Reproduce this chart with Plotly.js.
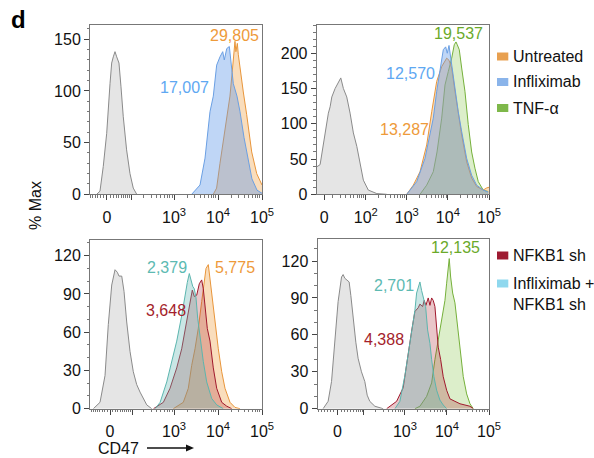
<!DOCTYPE html>
<html><head><meta charset="utf-8">
<script src="https://cdn.plot.ly/plotly-3.0.1.min.js"></script>
<style>html,body{margin:0;padding:0;background:#fff}#chart{width:594px;height:458px}</style>
</head><body><div id="chart"></div>
<script>
// ---------------- DATA (CD47 intensity, % of max) ----------------
// Panel 1
const p1GrayX = [-34, -22.5, -11.7, -0.9, 9.5, 14.9, 20.2, 25.9, 31.8, 40.2, 48, 57.6, 73, 91, 111, 136];
const p1GrayY = [0, 3, 27, 59, 107, 127, 133, 138, 133, 127, 104, 75, 43, 20, 6, 0];
const p1UntreatedX = [7800, 9300, 11100, 13200, 15800, 18700, 21000, 22300, 24300, 25500, 26600, 27500, 29000, 31600, 37600, 44900, 58300, 75900, 90200, 100000];
const p1UntreatedY = [0, 6, 30, 52, 75, 95, 118, 133, 148, 138, 143, 146, 135, 122, 99, 77, 41, 20, 12, 9];
const p1InflixX = [2520, 3900, 5070, 6030, 6580, 7820, 9330, 11100, 12800, 13900, 15800, 18100, 20500, 22300, 27000, 31600, 39000, 48000, 59000, 77000, 100000];
const p1InflixY = [0, 9, 35, 62, 80, 95, 125, 133, 138, 130, 141, 143, 123, 107, 95, 80, 55, 33, 15, 4, 1];
// Panel 2
const p2GrayX = [-12, -8.2, -4.4, -0.8, 3.0, 4.7, 6.7, 8.7, 12.8, 17.3, 21, 25.4, 31.9, 39.5, 48.4, 59.3, 71.8, 86.8, 115, 186, 325];
const p2GrayY = [30, 39, 42, 72, 101, 115, 124, 138, 150, 160, 165, 150, 138, 115, 87, 68, 44, 20, 6, 1, 0];
const p2UntreatedX = [997, 1443, 2100, 3050, 4040, 5340, 7070, 9350, 10640, 12370, 14870, 17890, 21650, 28620, 37860, 50100, 72400, 87700, 100000];
const p2UntreatedY = [0, 13, 32, 70, 117, 160, 181, 193, 190, 179, 146, 112, 84, 46, 23, 11, 6, 9, 10];
const p2InflixX = [997, 1745, 2775, 4415, 5340, 6430, 7730, 8830, 9660, 10640, 12370, 14870, 17890, 21650, 28620, 37860, 50100, 72400, 95900];
const p2InflixY = [0, 18, 51, 108, 146, 174, 205, 209, 200, 211, 183, 146, 117, 89, 51, 27, 13, 6, 3];
const p2TnfX = [2100, 3050, 4415, 5445, 7070, 8500, 10230, 12370, 14290, 15740, 16910, 18920, 21650, 26000, 31260, 37860, 45500, 54800, 72400, 95900];
const p2TnfY = [0, 13, 32, 60, 108, 155, 174, 193, 212, 216, 212, 205, 179, 146, 99, 60, 37, 18, 6, 4];
// Panel 3
const p3GrayX = [-69.5, -38.5, -18.6, -6.3, 6.3, 18.6, 27.5, 34.3, 45.8, 56.3, 69.5, 87.7, 108.5, 133, 162, 195, 235, 308];
const p3GrayY = [0, 5, 26, 66, 97, 109, 107, 104, 104, 92, 68, 45, 29, 19, 13, 8, 3, 0];
const p3UntreatedX = [964, 1626, 2113, 2523, 3000, 3565, 4262, 4806, 5336, 6020, 6580, 7420, 8550, 10160, 12140, 14420, 18740, 24330, 31620];
const p3UntreatedY = [0, 5, 16, 34, 47, 63, 84, 97, 110, 113, 102, 84, 65, 47, 29, 16, 5, 1, 0];
const p3NfkbX = [339, 571, 811, 1152, 1496, 1944, 2310, 2606, 2893, 3280, 3758, 4262, 4634, 5064, 5710, 6580, 7820, 9340, 12140, 15770, 20480];
const p3NfkbY = [0, 5, 16, 32, 47, 68, 84, 93, 88, 89, 98, 101, 94, 79, 63, 53, 32, 16, 5, 2, 0];
const p3InflixNfkbX = [370, 481, 683, 887, 1152, 1496, 1778, 2005, 2228, 2472, 2660, 2893, 3162, 3457, 3899, 4634, 5535, 7190, 9340, 13200];
const p3InflixNfkbY = [0, 5, 21, 37, 53, 73, 89, 99, 106, 101, 96, 94, 87, 71, 55, 37, 21, 8, 3, 0];
// Panel 4
const p4GrayX = [-43.7, -26.9, -16.7, -7.4, 1.6, 11.1, 15.6, 20.5, 27.5, 34, 39.8, 48.2, 59, 69, 86, 106, 122, 142, 190, 302];
const p4GrayY = [0, 6, 22, 54, 87, 107, 109, 106, 104, 103, 92, 73, 54, 41, 30, 22, 11, 6, 2, 0];
const p4TnfX = [1730, 2276, 3287, 4322, 5179, 6209, 7478, 8960, 9840, 10740, 11340, 12250, 13670, 15490, 17580, 20400, 24430, 29440, 35300, 42300];
const p4TnfY = [0, 2, 10, 21, 40, 56, 75, 88, 102, 118, 122, 107, 94, 86, 69, 48, 26, 12, 4, 0];
const p4NfkbX = [367, 634, 911, 1198, 1444, 1730, 2073, 2276, 2637, 2880, 3162, 3589, 3940, 4322, 4717, 5179, 5685, 6209, 7079, 8160, 9840, 11790, 15490, 20400, 26830, 35300, 42300];
const p4NfkbY = [0, 6, 17, 46, 63, 79, 82, 85, 83, 88, 84, 90, 84, 90, 88, 83, 67, 50, 40, 26, 15, 8, 6, 4, 3, 2, 0];
const p4InflixNfkbX = [578, 760, 1000, 1198, 1444, 1730, 1899, 2073, 2276, 2498, 2728, 3110, 3470, 3940, 4322, 4900, 5685, 6810, 8160, 9840];
const p4InflixNfkbY = [0, 6, 27, 45, 60, 80, 94, 99, 103, 96, 91, 83, 64, 53, 40, 26, 15, 7, 3, 0];

// Median labels
const p1Labels = ["29,805", "17,007"];
const p2Labels = ["19,537", "12,570", "13,287"];
const p3Labels = ["2,379", "5,775", "3,648"];
const p4Labels = ["12,135", "2,701", "4,388"];
const legendTop = ["Untreated", "Infliximab", "TNF-α"];
const legendBottom = ["NFKB1 sh", "Infliximab +<br>NFKB1 sh"];

// Axis ticks
const majorTickVals = [0, 100, 1000, 10000, 100000];
const majorTickText = ["0", " ", "10<sup>3</sup>", "10<sup>4</sup>", "10<sup>5</sup>"];
const majorTickText2 = ["0", "10<sup>2</sup>", "10<sup>3</sup>", "10<sup>4</sup>", "10<sup>5</sup>"];
const minorMult = [2, 3, 4, 5, 6, 7, 8, 9];
const minorDecades = [10, 100, 1000, 10000];

// ---------------- STYLE ----------------
const W = 594, H = 458;
const px = x => x / W, py = y => 1 - y / H;
const FONT = "Liberation Sans, Arial, Helvetica, sans-serif";
const C = {
  gray:   {line: "#8a8a8a", fill: "rgba(175,175,175,0.32)"},
  orange: {line: "#e8953a", fill: "rgba(238,160,70,0.36)"},
  blue:   {line: "#6a9fe3", fill: "rgba(95,152,232,0.40)"},
  green:  {line: "#75b03a", fill: "rgba(140,198,80,0.30)"},
  red:    {line: "#a0182c", fill: "rgba(175,50,62,0.28)"},
  teal:   {line: "#5bb5ae", fill: "rgba(100,182,180,0.34)"}
};
const TXT = {orange: "#ee9a3a", blue: "#5ea8f2", green: "#6aaa2a", teal: "#5dbab2", red: "#a41e2b"};

const panels = [
  {c: 60,   x0: 90,    x1: 262, y0: 25,  y1: 194.3, left: -0.386, ymax: 163.8, ydt: 50, tt: majorTickText},
  {c: 19.5, x0: 316.7, x1: 489, y0: 25,  y1: 194.3, left: -0.18,  ymax: 240,   ydt: 50, tt: majorTickText2},
  {c: 70.3, x0: 90,    x1: 262, y0: 240, y1: 408.7, left: -0.455, ymax: 132.3, ydt: 30, tt: majorTickText},
  {c: 50,   x0: 317.5, x1: 489, y0: 239, y1: 408.7, left: -0.476, ymax: 137.9, ydt: 30, tt: majorTickText}
];
const T = (v, c) => Math.asinh(v / c) / Math.LN10;

const series = [
  [[p1GrayX, p1GrayY, "gray"], [p1UntreatedX, p1UntreatedY, "orange"], [p1InflixX, p1InflixY, "blue"]],
  [[p2GrayX, p2GrayY, "gray"], [p2TnfX, p2TnfY, "green"], [p2UntreatedX, p2UntreatedY, "orange"], [p2InflixX, p2InflixY, "blue"]],
  [[p3GrayX, p3GrayY, "gray"], [p3UntreatedX, p3UntreatedY, "orange"], [p3NfkbX, p3NfkbY, "red"], [p3InflixNfkbX, p3InflixNfkbY, "teal"]],
  [[p4GrayX, p4GrayY, "gray"], [p4TnfX, p4TnfY, "green"], [p4NfkbX, p4NfkbY, "red"], [p4InflixNfkbX, p4InflixNfkbY, "teal"]]
];

const traces = [];
const layout = {
  width: W, height: H, margin: {l: 0, r: 0, t: 0, b: 0},
  paper_bgcolor: "#fff", plot_bgcolor: "rgba(0,0,0,0)", showlegend: false,
  font: {family: FONT, size: 16, color: "#111"},
  annotations: [], shapes: []
};

panels.forEach((p, i) => {
  const n = i + 1, xa = "x" + (i ? n : ""), ya = "y" + (i ? n : "");
  series[i].forEach(([xs, ys, col]) => {
    traces.push({
      x: xs.map(v => T(v, p.c)), y: ys, xaxis: xa, yaxis: ya,
      type: "scatter", mode: "lines", fill: "tozeroy",
      line: {color: C[col].line, width: 1, shape: "linear"},
      fillcolor: C[col].fill, hoverinfo: "skip"
    });
  });
  const minorVals = [];
  minorDecades.forEach(d => minorMult.forEach(m => { minorVals.push(T(m * d, p.c)); minorVals.push(T(-m * d, p.c)); }));
  minorDecades.forEach(d => minorVals.push(T(-d, p.c)));
  minorVals.push(T(10, p.c));
  const xr = [T(0, p.c) + p.left, T(100000, p.c)];
  layout["xaxis" + (i ? n : "")] = {
    domain: [px(p.x0), px(p.x1)], anchor: ya, range: xr,
    tickmode: "array", tickvals: majorTickVals.map(v => T(v, p.c)), ticktext: p.tt,
    ticks: "outside", ticklen: 5, tickwidth: 1, tickcolor: "#444", ticklabelstandoff: 3,
    minor: {tickmode: "array", tickvals: minorVals, ticks: "outside", ticklen: 2.5, tickwidth: 0.8, tickcolor: "#555"},
    showline: true, mirror: true, linecolor: "#777", linewidth: 1,
    showgrid: false, zeroline: false, tickfont: {size: 16, color: "#111"}, fixedrange: true
  };
  layout["yaxis" + (i ? n : "")] = {
    domain: [py(p.y1), py(p.y0)], anchor: xa, range: [0, p.ymax],
    tickmode: "linear", tick0: 0, dtick: p.ydt,
    ticks: "outside", ticklen: 5, tickwidth: 1, tickcolor: "#444",
    minor: {dtick: 10, ticks: "outside", ticklen: 2.5, tickwidth: 0.8, tickcolor: "#555"},
    showline: true, mirror: true, linecolor: "#777", linewidth: 1,
    showgrid: false, zeroline: false, tickfont: {size: 16, color: "#111"}, fixedrange: true
  };
});

function lab(text, x, y, color) {
  layout.annotations.push({text: text, xref: "paper", yref: "paper", x: px(x), y: py(y),
    xanchor: "center", yanchor: "middle", showarrow: false, font: {size: 16, color: color}});
}
lab(p1Labels[0], 234, 35, TXT.orange);
lab(p1Labels[1], 184.5, 87, TXT.blue);
lab(p2Labels[0], 458, 33.3, TXT.green);
lab(p2Labels[1], 410.5, 73.3, TXT.blue);
lab(p2Labels[2], 404.5, 129.3, TXT.orange);
lab(p3Labels[0], 166.7, 267.7, TXT.teal);
lab(p3Labels[1], 234.5, 267.7, TXT.orange);
lab(p3Labels[2], 166, 310, TXT.red);
lab(p4Labels[0], 455, 247.7, TXT.green);
lab(p4Labels[1], 393.5, 285, TXT.teal);
lab(p4Labels[2], 384, 339, TXT.red);

// Legends
function legItem(text, y, col, ty) {
  layout.shapes.push({type: "rect", xref: "paper", yref: "paper", x0: px(497), x1: px(508.3), y0: py(y + 4), y1: py(y - 4),
    fillcolor: col, line: {width: 0}});
  layout.annotations.push({text: text, xref: "paper", yref: "paper", x: px(511), y: py(ty === undefined ? y : ty),
    xanchor: "left", yanchor: ty === undefined ? "middle" : "top", align: "left", showarrow: false,
    font: {size: 16, color: "#111"}});
}
legItem(legendTop[0], 56.5, "#e8a050");
legItem(legendTop[1], 82, "#8ab4ea");
legItem(legendTop[2], 108, "#7eb84a");
legItem(legendBottom[0], 255.5, "#9e1b32");
legItem(legendBottom[1], 283.5, "#8fd8ee", 273);

// Panel letter and axis titles
layout.annotations.push({text: "<b>d</b>", xref: "paper", yref: "paper", x: px(9), y: py(19), xanchor: "left", yanchor: "middle",
  showarrow: false, font: {size: 24, color: "#000"}});
layout.annotations.push({text: "% Max", xref: "paper", yref: "paper", x: px(35), y: py(206), xanchor: "center", yanchor: "middle",
  textangle: -90, showarrow: false, font: {size: 16, color: "#111"}});
layout.annotations.push({text: "CD47", xref: "paper", yref: "paper", x: px(96), y: py(448), xanchor: "left", yanchor: "middle",
  showarrow: false, font: {size: 16, color: "#111"}});
layout.shapes.push({type: "line", xref: "paper", yref: "paper", x0: px(147), x1: px(186), y0: py(448), y1: py(448),
  line: {color: "#111", width: 1.3}});
layout.shapes.push({type: "path", xref: "paper", yref: "paper",
  path: "M " + px(186) + "," + py(444.5) + " L " + px(194) + "," + py(448) + " L " + px(186) + "," + py(451.5) + " Z",
  fillcolor: "#111", line: {width: 0}});

Plotly.newPlot("chart", traces, layout, {displayModeBar: false, staticPlot: true});
</script>
</body></html>
